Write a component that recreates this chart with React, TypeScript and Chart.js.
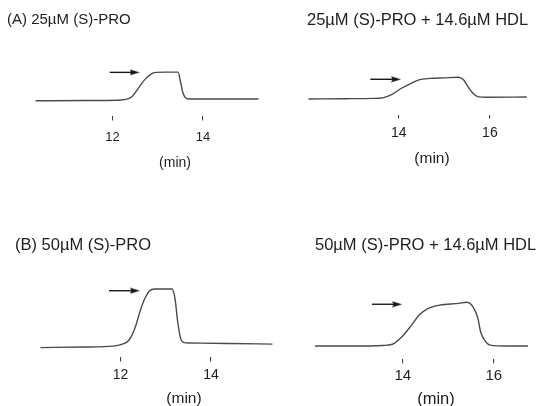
import React, { useEffect, useRef } from "react";
import { Chart, registerables } from "chart.js";

Chart.register(...registerables);

// ---------- DATA (time in min, relative detector signal) ----------
// (A) 25 µM (S)-PRO
const timeA1 = [10.3, 11.36, 12.11, 12.26, 12.43, 12.57, 12.71, 12.85, 12.96, 13.17, 13.45, 13.51, 13.56, 13.63, 13.7, 14.34, 15.23];
const signalA1 = [-0.01, 0.0, 0.01, 0.03, 0.13, 0.42, 0.71, 0.91, 0.97, 0.98, 0.98, 0.6, 0.25, 0.08, 0.05, 0.05, 0.05];
const arrowA1X = [11.94, 12.49];
const arrowA1Y = [0.97, 0.97];
const ticksA1 = [12, 14];

// 25 µM (S)-PRO + 14.6 µM HDL
const timeA2 = [12.02, 12.81, 13.44, 13.65, 13.85, 14.06, 14.27, 14.44, 14.69, 15.0, 15.31, 15.42, 15.52, 15.63, 15.73, 15.94, 16.81];
const signalA2 = [0, 0.01, 0.02, 0.04, 0.16, 0.37, 0.54, 0.66, 0.71, 0.73, 0.75, 0.66, 0.42, 0.2, 0.08, 0.06, 0.07];
const arrowA2X = [13.375, 13.94];
const arrowA2Y = [0.68, 0.68];
const ticksA2 = [14, 16];

// (B) 50 µM (S)-PRO
const timeB1 = [10.23, 11.19, 11.83, 12.04, 12.19, 12.33, 12.43, 12.54, 12.64, 12.75, 13.14, 13.21, 13.26, 13.32, 13.39, 13.53, 14.38, 15.36];
const signalB1 = [-0.02, 0, 0.03, 0.1, 0.24, 0.7, 1.22, 1.68, 1.93, 2.0, 2.0, 1.62, 0.93, 0.36, 0.16, 0.14, 0.12, 0.1];
const arrowB1X = [11.745, 12.32];
const arrowB1Y = [1.94, 1.94];
const ticksB1 = [12, 14];

// 50 µM (S)-PRO + 14.6 µM HDL
const timeB2 = [12.04, 12.94, 13.56, 13.77, 13.98, 14.19, 14.36, 14.54, 14.81, 15.23, 15.4, 15.54, 15.65, 15.71, 15.82, 15.92, 16.27, 16.75];
const signalB2 = [0, 0, 0.02, 0.06, 0.32, 0.72, 1.07, 1.28, 1.41, 1.47, 1.51, 1.36, 0.96, 0.49, 0.15, 0.03, 0, 0];
const arrowB2X = [13.32, 13.875];
const arrowB2Y = [1.44, 1.44];
const ticksB2 = [14, 16];

const titles = [
  "(A) 25\u00b5M (S)-PRO",
  "25\u00b5M (S)-PRO + 14.6\u00b5M HDL",
  "(B) 50\u00b5M (S)-PRO",
  "50\u00b5M (S)-PRO + 14.6\u00b5M HDL",
];
const axisLabel = "(min)";

// ---------- STYLE / LAYOUT ----------
const FONT = "'Liberation Sans', Arial, Helvetica, sans-serif";
const TEXT = "#1e1e1e";
const LINE = "#4a4a4a";

type Panel = {
  title: string;
  times: number[];
  values: number[];
  arrowX: number[];
  arrowY: number[];
  ticks: number[];
  left: number; top: number; width: number; height: number;
  titleSize: number; titlePadTop: number; titlePadBottom: number;
  tickSize: number; tickLen: number; tickPad: number;
  axisSize: number; axisPadTop: number;
  xMin: number; xMax: number; yMin: number; yMax: number;
};

const panels: Panel[] = [
  {
    title: titles[0], times: timeA1, values: signalA1, arrowX: arrowA1X, arrowY: arrowA1Y, ticks: ticksA1,
    left: 7, top: 0, width: 336, height: 172,
    titleSize: 15, titlePadTop: 11, titlePadBottom: 20,
    tickSize: 13, tickLen: 5, tickPad: 9, axisSize: 14, axisPadTop: 1,
    xMin: 9.8085, xMax: 16.957, yMin: -0.521, yMax: 1.776,
  },
  {
    title: titles[1], times: timeA2, values: signalA2, arrowX: arrowA2X, arrowY: arrowA2Y, ticks: ticksA2,
    left: 307, top: 0, width: 250, height: 168,
    titleSize: 16.5, titlePadTop: 11, titlePadBottom: 18,
    tickSize: 14, tickLen: 4, tickPad: 6, axisSize: 15.5, axisPadTop: 2,
    xMin: 12.125, xMax: 17.333, yMin: -0.538, yMax: 1.731,
  },
  {
    title: titles[2], times: timeB1, values: signalB1, arrowX: arrowB1X, arrowY: arrowB1Y, ticks: ticksB1,
    left: 15, top: 220, width: 338, height: 188,
    titleSize: 16.5, titlePadTop: 16, titlePadBottom: 10,
    tickSize: 14, tickLen: 5, tickPad: 5, axisSize: 15.5, axisPadTop: 1,
    xMin: 9.8085, xMax: 17.0, yMin: -0.331, yMax: 2.8,
  },
  {
    title: titles[3], times: timeB2, values: signalB2, arrowX: arrowB2X, arrowY: arrowB2Y, ticks: ticksB2,
    left: 315, top: 220, width: 242, height: 189,
    titleSize: 16.5, titlePadTop: 16, titlePadBottom: 10,
    tickSize: 15, tickLen: 4, tickPad: 4, axisSize: 16.5, axisPadTop: 0,
    xMin: 12.208, xMax: 17.25, yMin: -0.455, yMax: 2.766,
  },
];

function makeArrowHead(): HTMLCanvasElement {
  const c = document.createElement("canvas");
  c.width = 10;
  c.height = 7;
  const g = c.getContext("2d")!;
  g.fillStyle = "#151515";
  g.beginPath();
  g.moveTo(0, 0.5);
  g.lineTo(10, 3.5);
  g.lineTo(0, 6.5);
  g.lineTo(1.5, 3.5);
  g.closePath();
  g.fill();
  return c;
}

function PanelChart({ p }: { p: Panel }) {
  const ref = useRef<HTMLCanvasElement | null>(null);
  useEffect(() => {
    if (!ref.current) return;
    const head = makeArrowHead();
    const chart = new Chart(ref.current, {
      type: "line",
      data: {
        datasets: [
          {
            data: p.times.map((t, i) => ({ x: t, y: p.values[i] })),
            borderColor: LINE,
            borderWidth: 1.4,
            pointRadius: 0,
            cubicInterpolationMode: "monotone",
            clip: false as any,
          },
          {
            data: p.arrowX.map((t, i) => ({ x: t, y: p.arrowY[i] })),
            borderColor: "#1a1a1a",
            borderWidth: 1.4,
            tension: 0,
            pointRadius: [0, 5] as any,
            pointStyle: ["circle", head] as any,
            clip: false as any,
          },
        ],
      },
      options: {
        animation: false,
        responsive: false,
        events: [],
        layout: { padding: 0 },
        plugins: {
          legend: { display: false },
          tooltip: { enabled: false },
          title: {
            display: true,
            text: p.title,
            align: "start",
            color: TEXT,
            font: { family: FONT, size: p.titleSize, weight: "normal" as any },
            padding: { top: p.titlePadTop, bottom: p.titlePadBottom },
          },
        },
        scales: {
          x: {
            type: "linear",
            bounds: "data",
            afterDataLimits: (s: any) => {
              s.min = p.xMin;
              s.max = p.xMax;
            },
            afterBuildTicks: (s: any) => {
              s.ticks = p.ticks.map((v) => ({ value: v }));
            },
            grid: {
              drawOnChartArea: false,
              drawTicks: true,
              tickLength: p.tickLen,
              color: "#444",
              lineWidth: 1.1,
            },
            border: { display: false },
            ticks: {
              padding: p.tickPad,
              color: TEXT,
              maxRotation: 0,
              autoSkip: false,
              font: { family: FONT, size: p.tickSize },
            },
            title: {
              display: true,
              text: axisLabel,
              color: TEXT,
              font: { family: FONT, size: p.axisSize },
              padding: { top: p.axisPadTop, bottom: 0 },
            },
          },
          y: {
            type: "linear",
            display: false,
            min: p.yMin,
            max: p.yMax,
          },
        },
      },
    });
    return () => chart.destroy();
  }, [p]);
  return (
    <canvas
      ref={ref}
      width={p.width}
      height={p.height}
      style={{ position: "absolute", left: p.left, top: p.top, width: p.width, height: p.height }}
    />
  );
}

export default function App() {
  return (
    <div
      style={{
        position: "fixed",
        left: 0,
        top: 0,
        width: 537,
        height: 406,
        overflow: "hidden",
        background: "#fff",
      }}
    >
      {panels.map((p, i) => (
        <PanelChart key={i} p={p} />
      ))}
    </div>
  );
}
